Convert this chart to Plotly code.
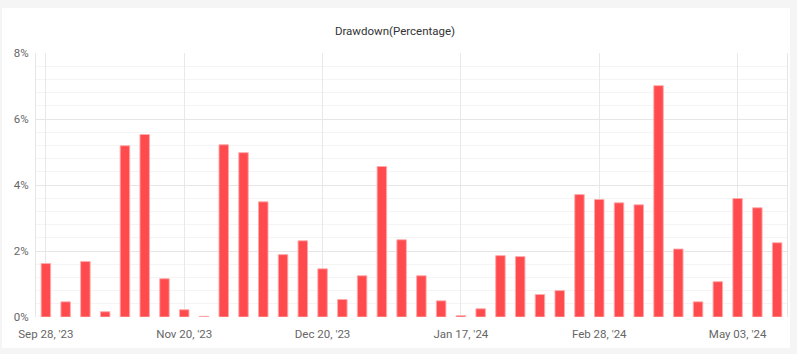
import plotly.graph_objects as go

# ---- data ----
drawdown_pct = [1.62, 0.46, 1.68, 0.16, 5.19, 5.53, 1.16, 0.22, 0.02, 5.22,
                4.98, 3.49, 1.89, 2.31, 1.46, 0.53, 1.25, 4.56, 2.34, 1.25,
                0.49, 0.04, 0.25, 1.86, 1.83, 0.68, 0.80, 3.71, 3.56, 3.46,
                3.40, 7.01, 2.06, 0.46, 1.07, 3.59, 3.31, 2.25]
periods = list(range(len(drawdown_pct)))
tick_positions = [0, 7, 14, 21, 28, 35]
tick_labels = ["Sep 28, '23", "Nov 20, '23", "Dec 20, '23", "Jan 17, '24", "Feb 28, '24", "May 03, '24"]
y_ticks = [0, 2, 4, 6, 8]
y_tick_labels = ["0%", "2%", "4%", "6%", "8%"]
title_text = "Drawdown(Percentage)"

W, H = 797, 354
ml, mr, mt, mb = 36, 10, 53, 37
pw, ph = W - ml - mr, H - mt - mb

def px_x(x):
    return (x - ml) / pw

def px_y(y):
    return (H - mb - y) / ph

fig = go.Figure()
fig.add_trace(go.Bar(
    x=periods, y=drawdown_pct, width=0.48,
    marker=dict(color="rgb(255,75,78)", line=dict(color="rgba(255,170,170,0.9)", width=1)),
    hoverinfo="y",
))

fig.update_layout(
    width=W, height=H,
    margin=dict(l=ml, r=mr, t=mt, b=mb),
    paper_bgcolor="#f5f5f5",
    plot_bgcolor="white",
    showlegend=False,
    font=dict(family="Roboto, Arial, sans-serif", size=11, color="#666666"),
    title=dict(text=title_text, x=px_x(395), xref="paper", xanchor="center",
               y=1 - 31 / H, yref="container", yanchor="middle",
               font=dict(family="Roboto, Arial, sans-serif", size=11.5, color="#333333")),
    shapes=[dict(type="rect", xref="paper", yref="paper", layer="below",
                 x0=px_x(2), x1=px_x(790), y0=px_y(348), y1=px_y(8),
                 fillcolor="white", line=dict(width=0))],
)

fig.update_xaxes(
    range=[-0.5, len(periods) - 0.5],
    tickmode="array", tickvals=tick_positions, ticktext=tick_labels,
    showgrid=True, gridcolor="#e8e8e8", gridwidth=1,
    ticks="", zeroline=False, showline=False, ticklabelstandoff=8,
    tickfont=dict(size=11.5, color="#666666"),
)
fig.update_yaxes(
    range=[0, 8],
    tickmode="array", tickvals=y_ticks, ticktext=y_tick_labels,
    showgrid=True, gridcolor="#e6e6e6", gridwidth=1,
    minor=dict(dtick=0.4, showgrid=True, gridcolor="#f4f4f4", gridwidth=1),
    showline=True, mirror=True, linecolor="#e6e6e6", linewidth=1,
    zeroline=False, ticks="", ticklabelstandoff=4,
    tickfont=dict(size=11.5, color="#666666"),
)

fig.write_html("out.html")
